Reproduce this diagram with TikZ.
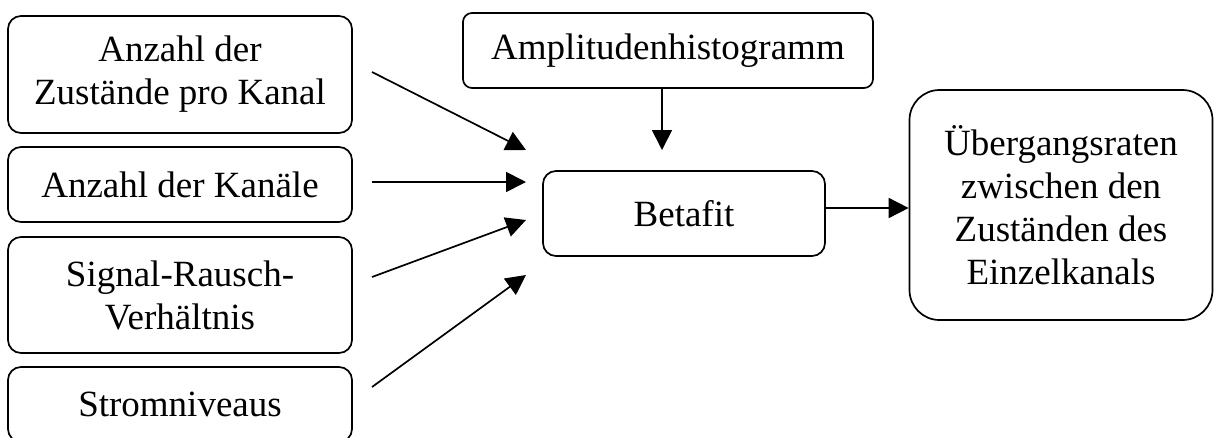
\documentclass[tikz,border=0pt]{standalone}
\usepackage{fontspec}
\setmainfont{Liberation Serif}
\usetikzlibrary{arrows.meta}
\begin{document}
\begin{tikzpicture}[x=1pt,y=-1pt,
  box/.style={draw, line width=1.7pt, rounded corners=13pt, align=center,
    font=\fontsize{37}{43}\selectfont, inner sep=0pt},
  arr/.style={line width=1.7pt, -{Triangle[length=20pt,width=20pt]}}]
\useasboundingbox (0,0) rectangle (1214,437);
\clip (0,0) rectangle (1214,437);
\node[box, minimum width=344pt, minimum height=117pt] (zust) at (180,74.5) {Anzahl der\\Zustände pro Kanal};
\node[box, minimum width=344pt, minimum height=75pt] (kan) at (180,184.5) {Anzahl der Kanäle};
\node[box, minimum width=344pt, minimum height=116pt] (snr) at (180,295) {Signal-Rausch-\\Verhältnis};
\node[box, minimum width=344pt, minimum height=75pt] (strom) at (180,404.5) {Stromniveaus};
\node[box, rounded corners=9pt, minimum width=410pt, minimum height=75pt] (amp) at (668,50.5) {Amplitudenhistogramm};
\node[box, minimum width=282pt, minimum height=85pt] (beta) at (684,213.5) {Betafit};
\node[box, rounded corners=30pt, minimum width=303pt, minimum height=230pt] (out) at (1061,205) {Übergangsraten\\zwischen den\\Zuständen des\\Einzelkanals};
\coordinate (s1) at (372,72);  \coordinate (t1) at (526,150);
\coordinate (s2) at (372,182); \coordinate (t2) at (526,182);
\coordinate (s3) at (372,277); \coordinate (t3) at (526,220);
\coordinate (s4) at (372,387); \coordinate (t4) at (526,275);
\draw[arr] (s1) -- (t1);
\draw[arr] (s2) -- (t2);
\draw[arr] (s3) -- (t3);
\draw[arr] (s4) -- (t4);
\coordinate (ta) at (662,150);
\draw[arr] (amp.south -| ta) -- (ta);
\draw[arr] (beta.east |- 0,208) -- (out.west |- 0,208);
\end{tikzpicture}
\end{document}
